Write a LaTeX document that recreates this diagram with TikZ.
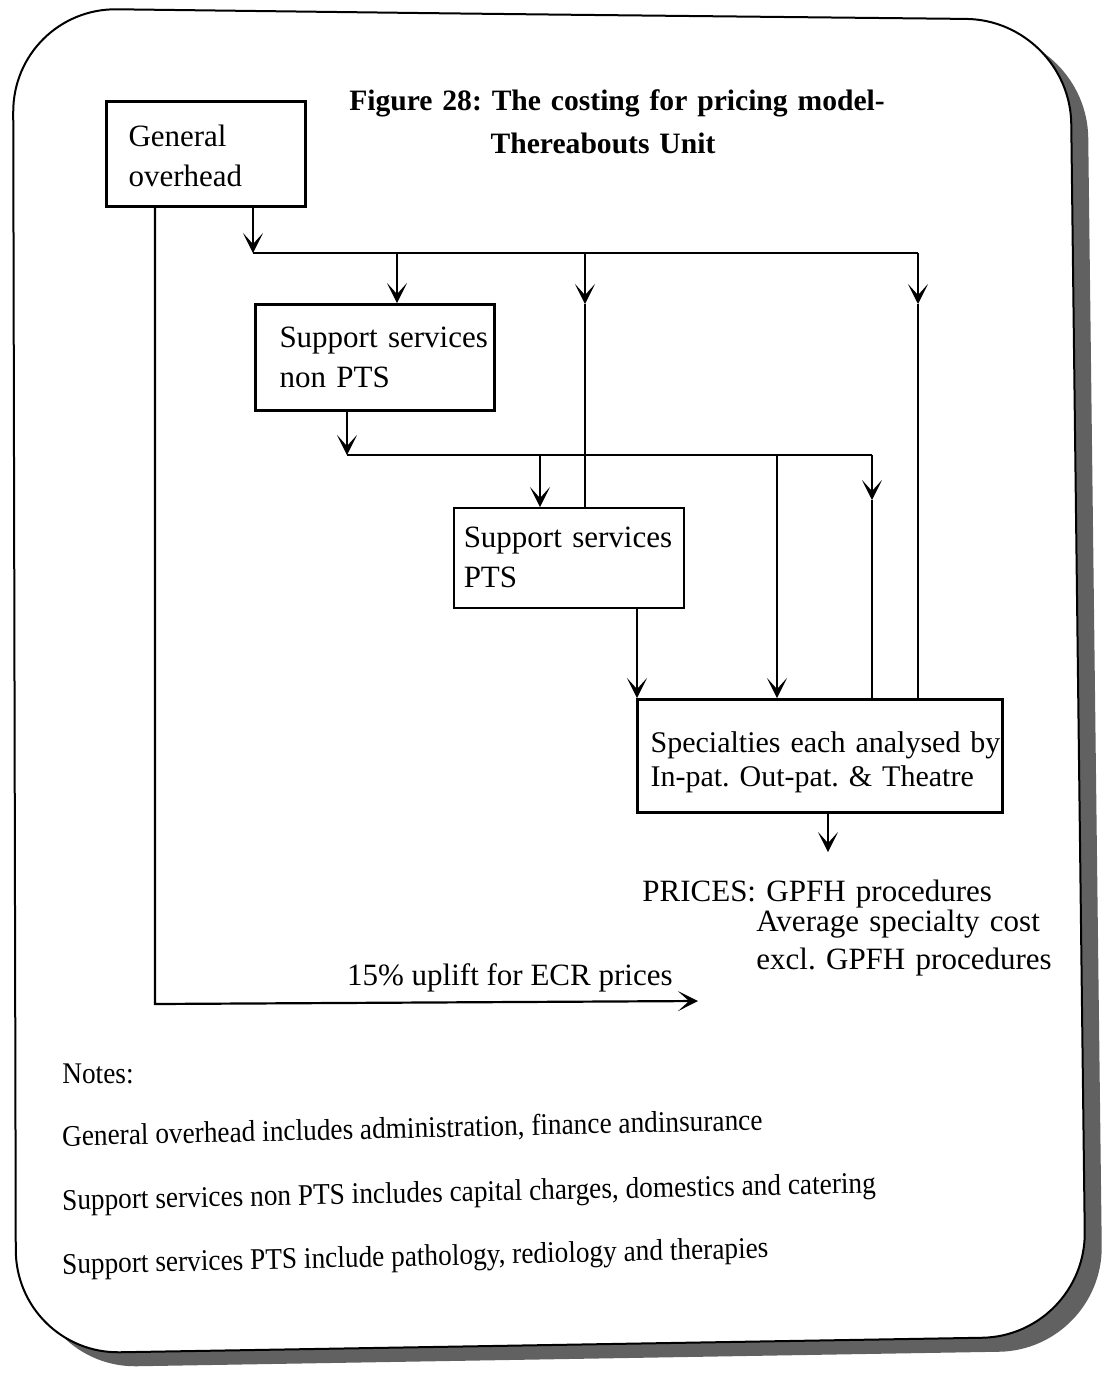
\documentclass[tikz,border=0pt]{standalone}
\usepackage{fontspec}
\setmainfont{Liberation Serif}
\usetikzlibrary{arrows.meta,calc}
\frenchspacing

\begin{document}
\begin{tikzpicture}[x=0.5pt,y=-0.5pt,
  box/.style={draw, rectangle, anchor=north west, align=left,
              line width=1.5pt, font=\fontsize{15.5}{20}\selectfont},
  conn/.style={line width=1.1pt},
  arr/.style={conn, -{Stealth[length=10pt,width=10pt,inset=5.5pt]}},
  plain/.style={inner sep=0pt, font=\fontsize{15.5}{20}\selectfont},
  note/.style={anchor=base west, inner sep=0pt, xscale=0.91, font=\fontsize{15}{17}\selectfont}
]
\useasboundingbox (0,0) rectangle (1102,1373);

% rounded frame with a drop shadow to the lower right
\newcommand\framepath{(500,14) -- (1070,20) -- (1086,1336) -- (16,1354) -- (13,8) -- cycle}
\begin{scope}[shift={(17,14)}]
  \fill[black!62, rounded corners=52pt] \framepath;
\end{scope}
\filldraw[fill=white, draw=black, line width=1pt, rounded corners=52pt] \framepath;

% title
\node[plain, anchor=base, align=center, text width=300pt,
      font=\bfseries\fontsize{14.8}{21.5}\selectfont] (title) at (617,110)
  {Figure 28: The costing for pricing model-\\\mbox{Thereabouts Unit\hspace{14pt}}};

% cost pools
\node[box, minimum width=99.5pt, minimum height=52.5pt, inner xsep=11pt,
      text width=77.5pt] (go) at (105,100)
  {\rule{0pt}{12.9pt}General\\overhead};
\node[box, minimum width=119.5pt, minimum height=53pt, inner xsep=12pt,
      text width=95.5pt] (ssn) at (254,303)
  {\mbox{Support services}\\non PTS};
\node[box, line width=0.75pt, minimum width=115pt, minimum height=50pt,
      inner xsep=5pt, text width=105pt] (pts) at (453,507)
  {Support services\\PTS};
\node[box, line width=1.6pt, minimum width=182.5pt, minimum height=56.5pt,
      inner xsep=6.5pt, text width=169.5pt, font=\fontsize{15}{17}\selectfont] (spec) at (636,698)
  {\rule{0pt}{16.9pt}\mbox{Specialties each analysed by}\\In-pat. Out-pat. \& Theatre};

% general overhead distribution
\coordinate (b1s) at (253,253);
\coordinate (b1e) at (918,253);
\coordinate (d1) at (397,253);
\coordinate (d2) at (585,253);
\coordinate (m2) at (585,304);
\coordinate (m3) at (918,304);
\draw[arr] (go.south -| b1s) -- (b1s);
\draw[conn] (b1s) -- (b1e);
\draw[arr] (d1) -- (d1 |- ssn.north);
\draw[arr] (d2) -- (m2);
\draw[conn] (m2) -- (m2 |- pts.north);
\draw[arr] (b1e) -- (m3);
\draw[conn] (m3) -- (m3 |- spec.north);

% non PTS support distribution
\coordinate (b2s) at (347,455);
\coordinate (b2e) at (872,455);
\coordinate (e1) at (540,455);
\coordinate (e2) at (777,455);
\coordinate (m4) at (872,500);
\draw[arr] (ssn.south -| b2s) -- (b2s);
\draw[conn] (b2s) -- (b2e);
\draw[arr] (e1) -- (e1 |- pts.north);
\draw[arr] (e2) -- (e2 |- spec.north);
\draw[arr] (b2e) -- (m4);
\draw[conn] (m4) -- (m4 |- spec.north);

% PTS support to specialties
\coordinate (px) at (637,650);
\draw[arr] (pts.south -| px) -- (spec.north -| px);

% prices
\coordinate (pr) at (828,852);
\draw[arr] (spec.south -| pr) -- (pr);
\node[plain, anchor=base west, align=left, text width=220pt,
      font=\fontsize{15.5}{15}\selectfont] (prices) at (642,901)
  {PRICES: GPFH procedures\\\hspace*{57pt}Average specialty cost\\[4pt]\hspace*{57pt}excl. GPFH procedures};

% uplift path
\coordinate (k) at (155,1004);
\coordinate (u) at (698,1001);
\draw[arr] (go.south -| k) -- (k) -- (u);
\node[plain, anchor=base east] (upl) at (673,985) {15\% uplift for ECR prices};

% notes
\node[note] (n0) at (62,1083) {Notes:};
\node[note, rotate=1.2] (n1) at (62,1146) {General overhead includes administration, finance andinsurance};
\node[note, rotate=1.1] (n2) at (62,1210) {Support services non PTS includes capital charges, domestics and catering};
\node[note, rotate=1.2] (n3) at (62,1274) {Support services PTS include pathology, rediology and therapies};
\end{tikzpicture}
\end{document}
